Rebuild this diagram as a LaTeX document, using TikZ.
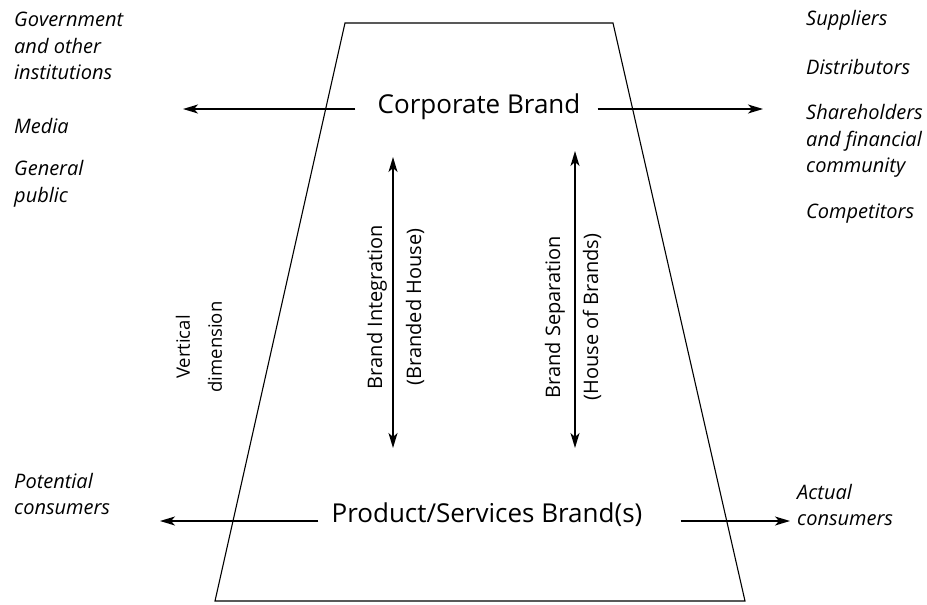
\documentclass[tikz,border=0pt]{standalone}
\usepackage{fontspec}
\setmainfont{Open Sans}
\usetikzlibrary{arrows.meta}
\begin{document}
\begin{tikzpicture}[x=1pt,y=-1pt,
  side/.style={font=\fontsize{20}{26.5}\selectfont\itshape, align=left, anchor=west, inner sep=0pt},
  brand/.style={font=\fontsize{26}{29}\selectfont, inner sep=0pt},
  vlab/.style={font=\fontsize{20}{22}\selectfont, rotate=90, inner sep=0pt},
  vdim/.style={font=\fontsize{18.5}{32}\selectfont, rotate=90, inner sep=0pt, align=center},
  arr/.style={line width=1.3pt, -{Stealth[length=15pt,width=9pt,inset=4pt]}},
  darr/.style={line width=1.3pt, {Stealth[length=15pt,width=9pt,inset=4pt]}-{Stealth[length=15pt,width=9pt,inset=4pt]}},
  frame/.style={line width=1.1pt, line join=miter}]
\useasboundingbox (0,0) rectangle (927,605);
% trapezoid
\coordinate (tl) at (345,23);
\coordinate (tr) at (613,23);
\coordinate (br) at (745,601);
\coordinate (bl) at (215,601);
\draw[frame] (tl) -- (tr) -- (br) -- (bl) -- cycle;
% main nodes
\node[brand] (cb) at (479,107) {Corporate Brand};
\node[brand] (pb) at (487,515) {Product/Services Brand(s)};
% side labels
\node[side] (gov) at (14,46) {Government\\and other\\institutions};
\node[side] (media) at (14,126) {Media};
\node[side] (pub) at (14,184) {General\\public};
\node[side] (sup) at (806,20) {Suppliers};
\node[side] (dis) at (806,67) {Distributors};
\node[side] (sha) at (806,141) {Shareholders\\and financial\\community};
\node[side] (com) at (806,214) {Competitors};
\node[side] (pot) at (14,494) {Potential\\consumers};
\node[side] (act) at (797,505) {Actual\\consumers};
% rotated labels
\node[vdim] (vd) at (199,347) {Vertical\\dimension};
\node[vlab] (bi1) at (377,307) {Brand Integration};
\node[vlab] (bi2) at (415,307) {(Branded House)};
\node[vlab] (bs1) at (555,317) {Brand Separation};
\node[vlab] (bs2) at (592,317) {(House of Brands)};
% arrow ends
\coordinate (cbL) at (183,109);
\coordinate (cbR) at (763,109);
\coordinate (pbL) at (160,521);
\coordinate (pbR) at (790,521);
\coordinate (iT) at (393,157);
\coordinate (iB) at (393,448);
\coordinate (sT) at (575,151);
\coordinate (sB) at (575,448);
\draw[arr] ([xshift=-22pt,yshift=-2pt]cb.west) -- (cbL);
\draw[arr] ([xshift=17pt,yshift=-2pt]cb.east) -- (cbR);
\draw[arr] ([xshift=-13pt,yshift=-6pt]pb.west) -- (pbL);
\draw[arr] ([xshift=38pt,yshift=-6pt]pb.east) -- (pbR);
\draw[darr] (iT) -- (iB);
\draw[darr] (sT) -- (sB);
\end{tikzpicture}
\end{document}
